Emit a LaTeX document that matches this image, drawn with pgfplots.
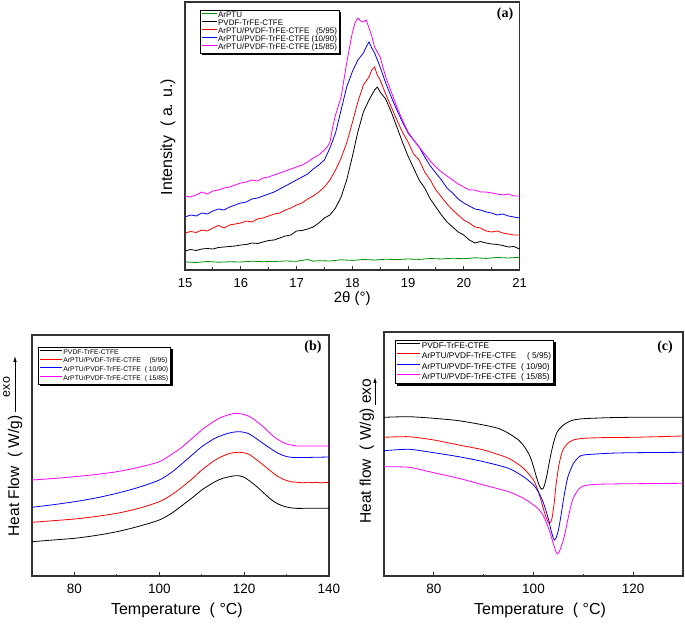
\documentclass[border=0pt]{standalone}
\usepackage{fontspec}
\setmainfont{Liberation Sans}
\newfontfamily\tnr{Liberation Serif}
\usepackage{pgfplots}
\pgfplotsset{compat=1.18}
\usetikzlibrary{arrows.meta}
\pgfdeclarelayer{background}
\pgfsetlayers{background,main}
\definecolor{cgreen}{RGB}{0,140,0}
\definecolor{cred}{RGB}{255,0,0}
\definecolor{cblue}{RGB}{0,0,255}
\definecolor{cmag}{RGB}{255,0,255}
\pgfplotsset{
  common/.style={
    scale only axis, anchor=south west,
    axis line style={line width=1.1pt, black!80},
    tick align=inside, xtick pos=left, ytick=\empty,
    major tick length=4pt, minor tick length=2.5pt,
    every tick/.style={black!80, line width=0.8pt},
    /pgf/number format/assume math mode=true,
    legend cell align=left,
    every axis plot/.append style={line width=0.8pt},
  }
}
\begin{document}
\begin{tikzpicture}
\useasboundingbox (0,0) rectangle (685pt,624pt);
% ---------------- (a)
\begin{axis}[common,
  at={(185pt,354pt)}, width=334.5pt, height=268pt,
  xmin=15, xmax=21, ymin=0, ymax=268,
  xtick={15,16,...,21}, minor x tick num=1,
  xticklabel style={font=\fontsize{13}{15}\selectfont, yshift=-5pt},
  xlabel={2θ (°)},
  xlabel style={font=\fontsize{15}{17}\selectfont, at={(axis description cs:0.5,-0.105)}, anchor=center},
  ylabel={Intensity~~( a. u.)},
  every axis y label/.style={at={(axis description cs:-0.051,0.496)}, rotate=90, anchor=center, font=\fontsize{16}{18}\selectfont},
  legend image code/.code={\draw[#1, line width=1pt] (0pt,2.4pt) -- (15pt,2.4pt);},
  legend style={name=legA, at={(0.045,0.97)}, anchor=north west, draw=black, line width=0.4pt, fill=white,
    font=\fontsize{8}{8}\selectfont, inner sep=1.5pt, row sep=0pt, nodes={inner sep=0.4pt}},
]
\addplot[cgreen] coordinates {(15.0,8) (15.2,7.5) (15.4,8.5) (15.6,7.8) (15.8,8.2) (16.0,8) (16.2,8.8) (16.4,8.3) (16.6,8.5) (16.8,9) (17.0,8.7) (17.2,10.5) (17.3,8.8) (17.4,9.3) (17.6,9) (17.8,10.2) (18.0,9.6) (18.2,10.5) (18.4,10) (18.6,10.8) (18.8,10.4) (19.0,11) (19.2,10.6) (19.4,11.5) (19.6,11) (19.8,11.8) (20.0,11.3) (20.2,12.2) (20.4,11.6) (20.6,12.5) (20.8,12) (21.0,12.7)};
\addlegendentry{ArPTU}
\addplot[black] coordinates {(15.0,19) (15.1,20.5) (15.2,19.5) (15.3,21) (15.4,21.5) (15.5,21) (15.6,22.5) (15.7,23) (15.8,23.5) (15.9,24) (16.0,25) (16.1,25.5) (16.2,27) (16.3,26.5) (16.4,28) (16.5,29.5) (16.6,30) (16.7,32) (16.8,34) (16.9,35) (17.0,39) (17.1,39.5) (17.2,41) (17.3,43) (17.4,47) (17.5,52) (17.6,55) (17.7,62) (17.8,73) (17.9,90) (18.0,113) (18.1,138) (18.2,158) (18.3,170) (18.4,180) (18.45,183) (18.5,178) (18.6,171) (18.7,158) (18.8,143) (18.9,128) (19.0,114) (19.1,102) (19.2,90) (19.3,82) (19.4,71) (19.5,63) (19.6,55) (19.7,48) (19.8,43) (19.9,38) (20.0,35) (20.1,30) (20.2,27) (20.3,28.5) (20.4,27) (20.5,26) (20.6,25.5) (20.7,24.5) (20.8,23) (20.9,23.5) (21.0,21)};
\addlegendentry{PVDF-TrFE-CTFE}
\addplot[cred] coordinates {(15.0,37) (15.1,38.5) (15.2,37.5) (15.3,40) (15.4,39) (15.5,42) (15.6,44.5) (15.7,42) (15.8,45) (15.9,46) (16.0,47) (16.1,49) (16.2,48) (16.3,51) (16.4,52) (16.5,54) (16.6,56) (16.7,57) (16.8,60) (16.9,62) (17.0,65) (17.1,67) (17.2,71) (17.3,74) (17.4,78) (17.5,83) (17.6,90) (17.7,100) (17.8,112) (17.9,127) (18.0,147) (18.1,168) (18.2,185) (18.3,193) (18.35,200) (18.4,203) (18.45,195) (18.5,190) (18.6,176) (18.7,163) (18.8,150) (18.9,138) (19.0,128) (19.1,116) (19.2,110) (19.3,98) (19.4,90) (19.5,80) (19.6,73) (19.7,66) (19.8,60) (19.9,55) (20.0,50) (20.1,47) (20.2,43) (20.3,42) (20.4,39) (20.5,38) (20.6,39) (20.7,37) (20.8,36) (20.9,35) (21.0,35)};
\addlegendentry{ArPTU/PVDF-TrFE-CTFE~~~(5/95)}
\addplot[cblue] coordinates {(15.0,53) (15.1,55) (15.2,54) (15.3,57) (15.4,56) (15.5,59) (15.6,61) (15.7,60) (15.8,63) (15.9,65) (16.0,67) (16.1,68) (16.2,71) (16.3,72) (16.4,74) (16.5,76) (16.6,78) (16.7,81) (16.8,84) (16.9,87) (17.0,90) (17.1,93) (17.2,96) (17.3,101) (17.4,105) (17.5,110) (17.6,122) (17.7,137) (17.8,160) (17.9,183) (18.0,198) (18.1,210) (18.2,217) (18.25,223) (18.3,228) (18.35,222) (18.4,217) (18.5,203) (18.6,187) (18.7,173) (18.8,160) (18.9,148) (19.0,137) (19.1,130) (19.2,123) (19.3,113) (19.4,104) (19.5,97) (19.6,90) (19.7,82) (19.8,77) (19.9,71) (20.0,67) (20.1,64) (20.2,61) (20.3,60) (20.4,58) (20.5,57) (20.6,55) (20.7,56) (20.8,54) (20.9,53) (21.0,52)};
\addlegendentry{ArPTU/PVDF-TrFE-CTFE (10/90)}
\addplot[cmag] coordinates {(15.0,74) (15.1,73) (15.2,75) (15.3,78) (15.4,76) (15.5,79) (15.6,80) (15.7,82) (15.8,83) (15.9,85) (16.0,87) (16.1,88) (16.2,90) (16.3,89) (16.4,92) (16.5,93) (16.6,95) (16.7,97) (16.8,99) (16.9,101) (17.0,103) (17.1,105) (17.2,108) (17.3,112) (17.4,115) (17.5,120) (17.55,123) (17.6,128) (17.65,143) (17.7,155) (17.8,173) (17.9,207) (18.0,237) (18.05,247) (18.1,252) (18.15,249) (18.2,248) (18.25,250) (18.3,242) (18.35,234) (18.4,223) (18.5,213) (18.6,193) (18.7,178) (18.8,163) (18.9,150) (19.0,138) (19.1,130) (19.2,123) (19.3,116) (19.4,109) (19.5,103) (19.6,98) (19.7,94) (19.8,90) (19.9,86) (20.0,83) (20.1,80) (20.2,80) (20.3,78) (20.4,78) (20.5,77) (20.6,76) (20.7,75) (20.8,76) (20.9,74) (21.0,74)};
\addlegendentry{ArPTU/PVDF-TrFE-CTFE (15/85)}
\node[font=\tnr\bfseries\fontsize{14}{16}\selectfont] at (rel axis cs:0.957,0.955) {(a)};
\end{axis}
\begin{pgfonlayer}{background}
\fill[black] ([shift={(2pt,-2pt)}]legA.south west) rectangle ([shift={(2pt,-2pt)}]legA.north east);
\end{pgfonlayer}
% ---------------- (b)
\begin{axis}[common,
  at={(32pt,48pt)}, width=297pt, height=241pt,
  xmin=70, xmax=140, ymin=0, ymax=241,
  xtick={80,100,120,140}, minor xtick={70,90,110,130},
  xticklabel style={font=\fontsize{13.5}{15}\selectfont, yshift=-5pt},
  xlabel={Temperature~~( °C)},
  xlabel style={font=\fontsize{16}{18}\selectfont, at={(axis description cs:0.488,-0.141)}, anchor=center},
  ylabel={Heat Flow~~( W/g)},
  every axis y label/.style={at={(axis description cs:-0.057,0.415)}, rotate=90, anchor=center, font=\fontsize{15.5}{17}\selectfont},
  legend image code/.code={\draw[#1, line width=1pt] (0pt,2.2pt) -- (22pt,2.2pt);},
  legend style={name=legB, at={(0.02,0.95)}, anchor=north west, draw=black, line width=0.4pt, fill=white,
    font=\fontsize{6.8}{7.5}\selectfont, inner sep=1.5pt, row sep=0.6pt, nodes={inner sep=0.8pt}},
]
\addplot[black, smooth] coordinates {(70,34.3) (75,36) (80,37.7) (85,40.5) (90,44.3) (95,49.5) (100,56) (103,63) (105,69.3) (108,79) (110,86) (113,94) (115,97.7) (118,100.3) (120,98.7) (123,89.3) (126,77.7) (128,72) (130,69) (132,67.7) (135,67.7) (140,67.7)};
\addlegendentry{PVDF-TrFE-CTFE}
\addplot[cred, smooth] coordinates {(70,53.7) (75,55.3) (80,57) (85,59.5) (90,62.7) (95,67.5) (100,74.3) (103,81.5) (105,87.7) (108,98) (110,106) (113,115.5) (115,120) (117,123) (119,123.7) (121,122) (123,116) (125,109.3) (128,99.3) (130,95.5) (131,94.3) (133,93.5) (134,93.2) (135,93.8) (136,93.3) (137,93.7) (138,93.1) (139,93.6) (140,93.3)};
\addlegendentry{ArPTU/PVDF-TrFE-CTFE\quad\ (5/95)\hspace{7pt}}
\addplot[cblue, smooth] coordinates {(70,68.7) (75,71.3) (80,74.3) (85,78) (90,82.7) (95,88.5) (100,96) (103,104) (105,111) (108,122) (110,129.3) (113,137.5) (115,141) (117,143.5) (119,144.3) (121,142.5) (122,140) (125,131) (128,122.7) (130,119.5) (131,118.7) (134,118.5) (140,119)};
\addlegendentry{ArPTU/PVDF-TrFE-CTFE\ \ ( 10/90)}
\addplot[cmag, smooth] coordinates {(70,96) (75,97.5) (80,99.3) (85,101.5) (90,104.3) (95,108.5) (100,114.3) (103,122) (105,127.7) (108,138.5) (110,146) (113,155) (115,159.3) (118,162.7) (121,160) (124,151) (127,139.3) (129,134) (130,132) (132,130.3) (133,130) (140,130)};
\addlegendentry{ArPTU/PVDF-TrFE-CTFE\ \ ( 15/85)}
\node[font=\tnr\bfseries\fontsize{14}{16}\selectfont] at (rel axis cs:0.946,0.95) {(b)};
\end{axis}
\begin{pgfonlayer}{background}
\fill[black] ([shift={(2pt,-2pt)}]legB.south west) rectangle ([shift={(2pt,-2pt)}]legB.north east);
\end{pgfonlayer}
% ---------------- (c)
\begin{axis}[common,
  at={(384pt,48pt)}, width=299pt, height=244pt,
  xmin=70, xmax=130, ymin=0, ymax=244,
  xtick={80,100,120}, minor xtick={90,110},
  xticklabel style={font=\fontsize{13.5}{15}\selectfont, yshift=-5pt},
  xlabel={Temperature~~( °C)},
  xlabel style={font=\fontsize{16}{18}\selectfont, at={(axis description cs:0.522,-0.139)}, anchor=center},
  ylabel={Heat flow~~( W/g) exo},
  every axis y label/.style={at={(axis description cs:-0.057,0.512)}, rotate=90, anchor=center, font=\fontsize{15.5}{17}\selectfont},
  legend image code/.code={\draw[#1, line width=1pt] (0pt,2.8pt) -- (23pt,2.8pt);},
  legend style={name=legC, at={(0.037,0.967)}, anchor=north west, draw=black, line width=0.4pt, fill=white,
    font=\fontsize{8.3}{9}\selectfont, inner sep=1.5pt, row sep=0.8pt, nodes={inner sep=1pt}},
]
\addplot[black, smooth, tension=0.4] coordinates {(70,158.7) (75,159.3) (80,157.7) (85,155.3) (90,151) (93,147.5) (95,142.7) (97,136) (98,130.5) (99,122.7) (99.5,117) (100,109.3) (100.5,100.5) (101,92.7) (101.4,88) (101.7,86.7) (102,88) (102.3,92.7) (102.7,101) (103,109.3) (103.5,122) (104,132.7) (104.5,141) (105,146) (106,151) (107,154) (108,156) (110,157.3) (115,158.3) (120,158.7) (130,158.7)};
\addlegendentry{PVDF-TrFE-CTFE}
\addplot[cred, smooth, tension=0.4] coordinates {(70,138.7) (75,139.3) (80,136) (85,131) (90,126) (95,117.7) (98,107.7) (100,96) (101,84) (101.5,76) (102,67) (102.5,59) (103,53.5) (103.2,52.7) (103.5,54.5) (103.8,60) (104.2,75) (104.5,90) (105,108) (105.5,120) (106,127) (107,133.3) (108,136) (110,137.7) (115,138.5) (120,138.7) (130,140)};
\addlegendentry{ArPTU/PVDF-TrFE-CTFE\quad\ ( 5/95)}
\addplot[cblue, smooth, tension=0.4] coordinates {(70,125.3) (75,126.7) (80,123.3) (85,119.3) (90,114.3) (95,107.7) (98,99.3) (100,91) (101,84) (102,73) (103,57) (103.5,46) (104,37.5) (104.2,36) (104.5,37.5) (105,46) (105.5,60) (106,76) (106.5,90) (107,100.7) (108,112.5) (109,118.5) (110,121) (115,122.7) (120,123.3) (130,123.7)};
\addlegendentry{ArPTU/PVDF-TrFE-CTFE\ \ ( 10/90)}
\addplot[cmag, smooth, tension=0.4] coordinates {(70,109.3) (75,108.7) (80,103.3) (85,97.7) (90,91) (95,84.3) (98,77.7) (100,71) (101,67) (102,60) (103,48) (103.5,40.5) (104,32) (104.5,24.5) (104.8,22) (105.1,23.5) (105.5,28.5) (106,36) (106.5,47) (107,59) (107.5,70) (108,78) (109,86.5) (110,90) (112,91.5) (115,92) (120,92.3) (130,92.7)};
\addlegendentry{ArPTU/PVDF-TrFE-CTFE\ \ ( 15/85)}
\node[font=\tnr\bfseries\fontsize{14}{16}\selectfont] at (rel axis cs:0.94,0.94) {(c)};
\end{axis}
\begin{pgfonlayer}{background}
\fill[black] ([shift={(2pt,-2pt)}]legC.south west) rectangle ([shift={(2pt,-2pt)}]legC.north east);
\end{pgfonlayer}
% exo arrows and label
\draw[line width=0.8pt, -{Latex[length=6pt,width=3.5pt]}] (15pt,212pt) -- (15pt,268pt);
\node[rotate=90, font=\fontsize{12.5}{14}\selectfont, inner sep=0pt] at (6.5pt,237pt) {exo};
\draw[line width=0.8pt, -{Latex[length=6pt,width=3.5pt]}] (375pt,219pt) -- (375pt,247pt);
\end{tikzpicture}
\end{document}
